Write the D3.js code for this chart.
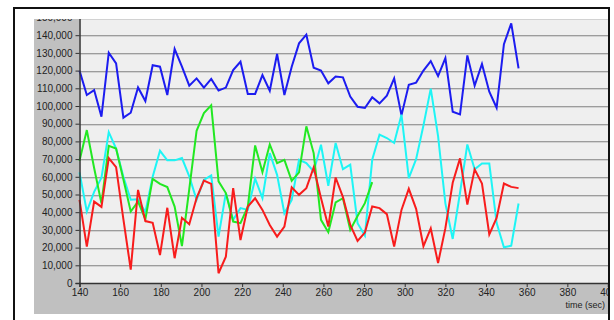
<!DOCTYPE html>
<html>
<head>
<meta charset="utf-8">
<script src="https://cdn.jsdelivr.net/npm/d3@7"></script>
<style>
  html, body { margin: 0; padding: 0; background: #ffffff; }
  svg { display: block; }
  text { font-family: "Liberation Sans", Arial, sans-serif; fill: #222; }
</style>
</head>
<body>
<svg id="chart" width="614" height="320"></svg>
<script>
// Sample times (seconds)
const timeSec = [140, 143.6, 147.2, 150.8, 154.4, 158, 161.6, 165.2, 168.8, 172.4,
  176, 179.6, 183.2, 186.8, 190.4, 194, 197.6, 201.2, 204.8, 208.4,
  212, 215.6, 219.2, 222.8, 226.4, 230, 233.6, 237.2, 240.8, 244.4,
  248, 251.6, 255.2, 258.8, 262.4, 266, 269.6, 273.2, 276.8, 280.4,
  284, 287.6, 291.2, 294.8, 298.4, 302, 305.6, 309.2, 312.8, 316.4,
  320, 323.6, 327.2, 330.8, 334.4, 338, 341.6, 345.2, 348.8, 352.4, 356];

const blueSeries = [120000, 106200, 109000, 94000, 130100, 124100, 93400, 96200, 110500, 102800,
  123000, 122200, 106200, 132200, 122200, 111500, 115600, 110400, 115300, 108700,
  110400, 120300, 125000, 106800, 106800, 117500, 108600, 129400, 106200, 122200,
  135400, 140300, 121600, 120000, 112800, 116600, 116200, 105300, 99600, 98900,
  104900, 101500, 105800, 115600, 94700, 112000, 113200, 120000, 125400, 116900,
  127100, 96800, 95300, 128600, 111500, 123700, 108100, 99000, 134900, 146700, 121300];

const cyanSeries = [62500, 40400, 51500, 59500, 85200, 76000, 60000, 47000, 47300, 40000,
  60000, 74700, 69300, 69300, 70600, 60200, 47000, 58300, 60800, 26200,
  50800, 35700, 42300, 41300, 58900, 47900, 73400, 61100, 39400, 47000,
  69600, 67700, 63000, 78100, 54900, 79100, 64300, 66800, 33800, 26800,
  69600, 83800, 81900, 79100, 95100, 59300, 70000, 89000, 109800, 83000,
  45000, 24900, 51000, 78300, 64200, 67500, 67500, 34000, 20200, 21100, 44900];

// this series stops at 284 s
const greenSeries = [69000, 86400, 65000, 45000, 77500, 76000, 58500, 40400, 46000, 36000,
  58800, 56000, 54200, 43200, 20900, 53000, 86000, 96000, 100400, 57400,
  50800, 34700, 33800, 43200, 77700, 62600, 78300, 67700, 69600, 57700,
  62500, 88500, 73400, 35700, 28700, 45500, 47900, 30000, 37900, 45100, 57000];

const redSeries = [47000, 20600, 46000, 43000, 70600, 65500, 36000, 7600, 52600, 35000,
  34000, 15800, 42500, 14000, 36800, 33200, 48000, 57900, 56000, 5500,
  14900, 53600, 24300, 43200, 47900, 41300, 32800, 26200, 31900, 54000,
  49800, 53600, 65300, 48000, 31900, 59600, 48500, 32800, 23800, 28500,
  43200, 42300, 38900, 20600, 41300, 53200, 41900, 20800, 30800, 11300,
  31000, 56600, 70400, 44300, 64200, 56200, 27400, 36800, 56200, 54300, 53600];

const xTicks = [140, 160, 180, 200, 220, 240, 260, 280, 300, 320, 340, 360, 380, 400];
const yTicks = [0, 10000, 20000, 30000, 40000, 50000, 60000, 70000, 80000, 90000,
  100000, 110000, 120000, 130000, 140000, 150000];
const xTitle = "time (sec)";

const svg = d3.select("#chart");

// window frame
svg.append("rect")
  .attr("x", 14).attr("y", 8).attr("width", 595).attr("height", 330)
  .attr("fill", "#ffffff").attr("stroke", "#111").attr("stroke-width", 2);

// visible viewport of the chart panel
svg.append("defs").append("clipPath").attr("id", "view")
  .append("rect").attr("x", 34).attr("y", 19).attr("width", 574).attr("height", 295);

const g = svg.append("g").attr("clip-path", "url(#view)");

g.append("rect").attr("x", 34).attr("y", 19).attr("width", 574).attr("height", 295)
  .attr("fill", "#c0c0c0");

const x = d3.scaleLinear().domain([140, 400]).range([79.5, 608]);
const y = d3.scaleLinear().domain([0, 150000]).range([283, 17.5]);

// plot background
g.append("rect")
  .attr("x", x(140)).attr("y", y(150000) - 10)
  .attr("width", x(400) - x(140)).attr("height", y(0) - y(150000) + 10)
  .attr("fill", "#efefef");

// horizontal grid
const grid = g.append("g");
yTicks.filter(v => v > 0).forEach(v => {
  const yy = Math.round(y(v));
  grid.append("line").attr("x1", x(140)).attr("x2", x(400))
    .attr("y1", yy + 0.5).attr("y2", yy + 0.5)
    .attr("stroke", "#9c9c9c").attr("stroke-width", 1);
  grid.append("line").attr("x1", x(140)).attr("x2", x(400))
    .attr("y1", yy + 1.5).attr("y2", yy + 1.5)
    .attr("stroke", "#d2d2d2").attr("stroke-width", 1);
});

// series
const series = [
  { values: blueSeries, color: "#1c1cf0" },
  { values: cyanSeries, color: "#1ef5f5" },
  { values: greenSeries, color: "#22e822" },
  { values: redSeries, color: "#f81c1c" }
];
const line = d3.line().x(d => x(d[0])).y(d => y(d[1]));
series.forEach(s => {
  const pts = s.values.map((v, i) => [timeSec[i], v]);
  g.append("path").datum(pts)
    .attr("d", line)
    .attr("fill", "none")
    .attr("stroke", s.color)
    .attr("stroke-width", 2);
});

// axes
const yAxis = d3.axisLeft(y).tickValues(yTicks).tickFormat(d3.format(",")).tickSize(4).tickPadding(3);
const xAxis = d3.axisBottom(x).tickValues(xTicks).tickFormat(d3.format("d")).tickSize(4).tickPadding(2);

const ya = g.append("g").attr("transform", `translate(${x(140)},0)`).call(yAxis);
const xa = g.append("g").attr("transform", `translate(0,${y(0)})`).call(xAxis);

[ya, xa].forEach(a => {
  a.select(".domain").attr("stroke", "#333").attr("stroke-width", 1.5);
  a.selectAll(".tick line").attr("stroke", "#333");
  a.selectAll("text").attr("font-size", "10px").attr("fill", "#222")
    .attr("font-family", "'Liberation Sans', Arial, sans-serif");
});

g.append("text")
  .attr("x", 605).attr("y", 308)
  .attr("text-anchor", "end")
  .attr("font-size", "9px")
  .text(xTitle);
</script>
</body>
</html>
